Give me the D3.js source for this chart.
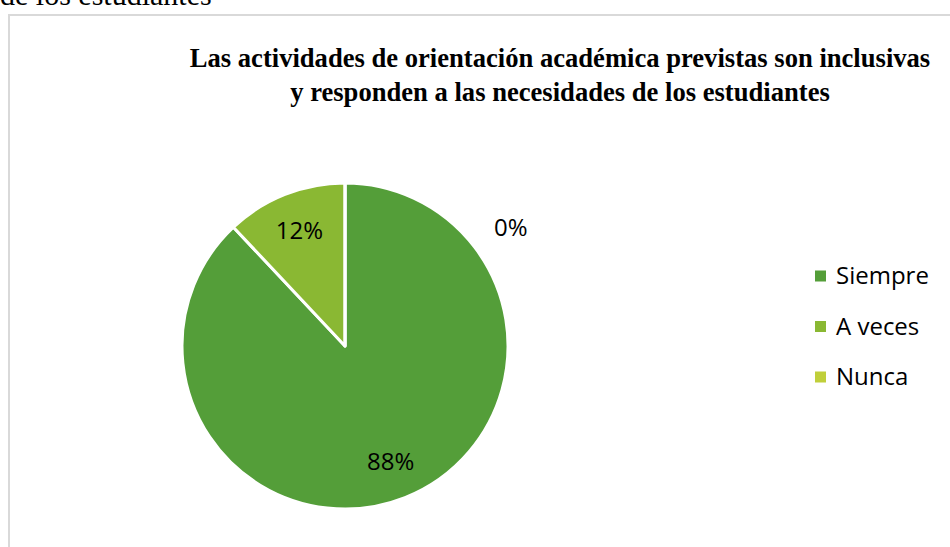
<!DOCTYPE html>
<html>
<head>
<meta charset="utf-8">
<script src="https://cdn.jsdelivr.net/npm/d3@7"></script>
<style>
  body { margin: 0; background: #ffffff; }
</style>
</head>
<body>
<script>
var width = 950;
var height = 547;

var categories = ["Siempre", "A veces", "Nunca"];
var values = [88, 12, 0];
var colors = ["#549e39", "#8ab833", "#c0cf3a"];
var titleLines = [
  "Las actividades de orientación académica previstas son inclusivas",
  "y responden a las necesidades de los estudiantes"
];

var svg = d3.select("body")
  .append("svg")
  .attr("width", width)
  .attr("height", height);

// leftover text from the page above the chart
svg.append("text")
  .attr("x", 0)
  .attr("y", 5)
  .attr("font-family", "Liberation Serif, Times New Roman, serif")
  .attr("font-size", 30)
  .attr("fill", "#000")
  .text("de los estudiantes");

// chart frame
svg.append("rect")
  .attr("x", 9)
  .attr("y", 15)
  .attr("width", width + 10)
  .attr("height", height + 10)
  .attr("fill", "#fff")
  .attr("stroke", "#d9d9d9")
  .attr("stroke-width", 2);

var title = svg.append("text")
  .attr("text-anchor", "middle")
  .attr("font-family", "Liberation Serif, Times New Roman, serif")
  .attr("font-weight", "bold")
  .attr("font-size", 26.6)
  .attr("fill", "#000");
title.selectAll("tspan")
  .data(titleLines)
  .enter()
  .append("tspan")
  .attr("x", 560)
  .attr("y", function (d, i) { return 67 + i * 34; })
  .text(function (d) { return d; });

var cx = 345, cy = 346, r = 163;
var data = categories.map(function (c, i) {
  return { name: c, value: values[i], color: colors[i] };
});

var pie = d3.pie()
  .sort(null)
  .value(function (d) { return d.value; });
var arcs = pie(data);

var arc = d3.arc().innerRadius(0).outerRadius(r);
var labelArc = d3.arc().innerRadius(r * 0.52).outerRadius(r);

var pieg = svg.append("g")
  .attr("transform", "translate(" + cx + " " + cy + ")");

pieg.selectAll("path")
  .data(arcs)
  .enter()
  .append("path")
  .attr("d", arc)
  .attr("fill", function (d) { return d.data.color; })
  .attr("stroke", "#fff")
  .attr("stroke-width", 3)
  .attr("stroke-linejoin", "round");

pieg.selectAll("text")
  .data(arcs)
  .enter()
  .append("text")
  .attr("transform", function (d) {
    var p;
    if (d.data.value === 0) {
      // empty slice: label pushed outside
      var a = d.startAngle + 0.95;
      p = [Math.sin(a) * r * 1.25, -Math.cos(a) * r * 1.25];
    } else {
      p = labelArc.centroid(d);
    }
    return "translate(" + p[0] + " " + p[1] + ")";
  })
  .attr("text-anchor", "middle")
  .attr("dy", "0.35em")
  .attr("font-family", "Open Sans, Noto Sans, sans-serif")
  .attr("font-size", 24)
  .attr("fill", "#000")
  .text(function (d) { return d.data.value + "%"; });

var legend = svg.append("g")
  .attr("transform", "translate(815 276)");
var item = legend.selectAll("g")
  .data(data)
  .enter()
  .append("g")
  .attr("transform", function (d, i) { return "translate(0 " + i * 50.5 + ")"; });
item.append("rect")
  .attr("x", 0)
  .attr("y", -5.5)
  .attr("width", 11)
  .attr("height", 11)
  .attr("fill", function (d) { return d.color; });
item.append("text")
  .attr("x", 21)
  .attr("dy", "0.35em")
  .attr("font-family", "Open Sans, Noto Sans, sans-serif")
  .attr("font-size", 24)
  .attr("fill", "#000")
  .text(function (d) { return d.name; });
</script>
</body>
</html>
